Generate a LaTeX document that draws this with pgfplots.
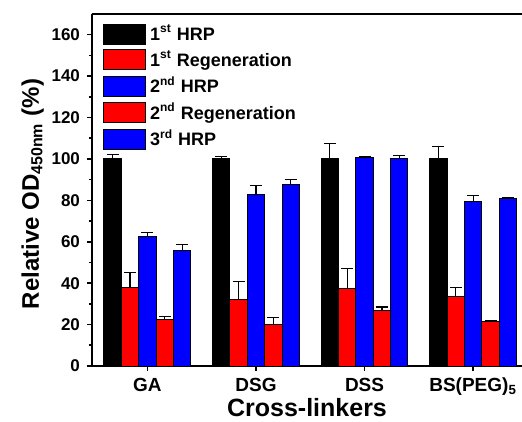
\documentclass[border=0pt]{standalone}
\usepackage{pgfplots}
\pgfplotsset{compat=1.18}
\usepackage{fontspec}
\setmainfont{Liberation Sans}
\definecolor{hrpblue}{HTML}{0000FF}
\definecolor{regenred}{HTML}{FF0000}

\begin{document}
\begin{tikzpicture}
\begin{axis}[
  scale only axis,
  width=215pt, height=176pt,
  ybar, ybar=0pt,
  bar width=0.16,
  xmin=0.49, xmax=4.45,
  ymin=0, ymax=170,
  axis x line*=box, axis y line*=left,
  axis line style={line width=1pt},
  tick pos=left,
  tick align=outside,
  major tick length=2.5pt, minor tick length=1.5pt,
  every tick/.style={black, line width=0.8pt},
  xtick={1,2,3,4},
  xticklabels={GA, DSG, DSS, BS(PEG)\textsubscript{5}},
  x tick label style={font=\fontsize{9.5}{11}\selectfont\bfseries},
  ytick={0,20,...,160},
  minor y tick num=1,
  yticklabel={\pgfmathprintnumber{\tick}},
  y tick label style={font=\fontsize{8.5}{10}\selectfont\bfseries},
  /pgf/number format/assume math mode=true,
  xlabel={Cross-linkers},
  xlabel style={font=\fontsize{12.5}{14}\selectfont\bfseries, yshift=5.5pt},
  ylabel={Relative OD\textsubscript{450nm} (\%)},
  ylabel style={font=\fontsize{12}{14}\selectfont\bfseries, yshift=-3pt, xshift=-2pt},
  legend style={at={(0.025,0.981)}, anchor=north west, draw=none, fill=none,
    font=\fontsize{9}{10}\selectfont\bfseries, row sep=-0.4pt,
    inner sep=0pt},
  legend cell align=left,
  legend image code/.code={\draw[#1, draw=black, line width=0.5pt] (0pt,-5pt) rectangle (21pt,5pt);},
  every axis plot/.append style={draw=black, line width=0.5pt},
  error bars/y dir=plus,
  error bars/y explicit,
  error bars/error bar style={line width=0.6pt, black},
  error bars/error mark options={rotate=90, mark size=3pt, line width=0.6pt, black},
]
\addplot[fill=black, bar shift=-0.32] coordinates {
  (1,100) +- (0,2) (2,100) +- (0,1) (3,100) +- (0,7.5) (4,100) +- (0,6)};
\addplot[fill=regenred, bar shift=-0.16] coordinates {
  (1,38) +- (0,7) (2,32) +- (0,9) (3,37.5) +- (0,9.5) (4,33.5) +- (0,4.5)};
\addplot[fill=hrpblue, bar shift=0] coordinates {
  (1,62.5) +- (0,2) (2,83) +- (0,4) (3,100.5) +- (0,0.5) (4,79.5) +- (0,3)};
\addplot[fill=regenred, bar shift=0.16] coordinates {
  (1,22.5) +- (0,1.5) (2,20) +- (0,3.5) (3,27) +- (0,1.5) (4,21.5) +- (0,0.5)};
\addplot[fill=hrpblue, bar shift=0.32] coordinates {
  (1,56) +- (0,2.5) (2,87.5) +- (0,2.5) (3,100) +- (0,1.5) (4,81) +- (0,0.5)};
\legend{1\textsuperscript{st} HRP, 1\textsuperscript{st} Regeneration, 2\textsuperscript{nd} HRP, 2\textsuperscript{nd} Regeneration, 3\textsuperscript{rd} HRP}
\end{axis}
\pgfresetboundingbox
\path ([xshift=-46pt,yshift=-27.5pt]current axis.south west) rectangle ([yshift=7pt]current axis.north east);
\end{tikzpicture}
\end{document}
